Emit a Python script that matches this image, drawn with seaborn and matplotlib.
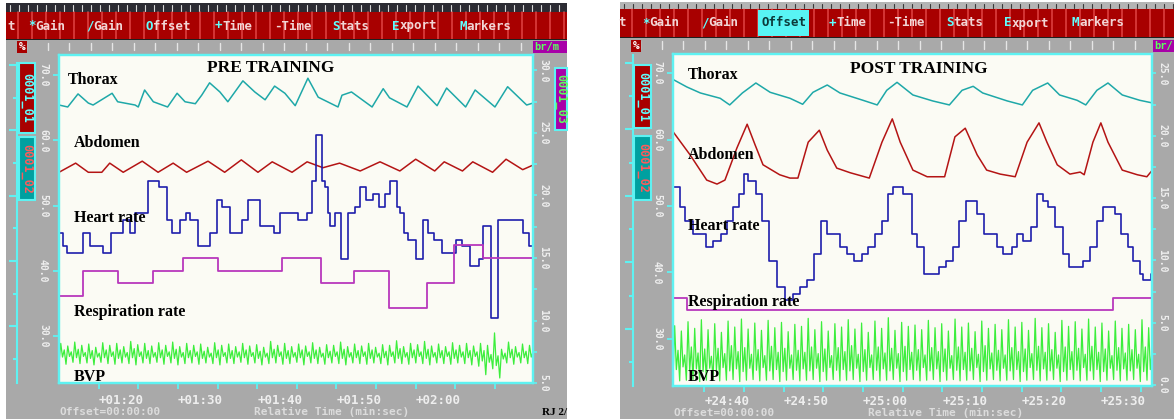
import numpy as np
import matplotlib
matplotlib.use("Agg")
import matplotlib.pyplot as plt
import matplotlib.transforms as mtransforms
from matplotlib.patches import Rectangle
import seaborn as sns

W, H = 1174, 419

# ---------------- PRE TRAINING (time in s, left scale %, resp in br/min) ----------------
pre_thorax_t = [75.0, 76.1, 77.4, 78.7, 79.3, 81.7, 82.4, 84.6, 85.0, 85.8, 86.9, 88.7, 89.9,
                90.9, 92.2, 93.0, 94.0, 95.3, 96.3, 98.2, 99.7, 101.0, 102.2, 103.5, 104.8,
                106.4, 107.7, 110.2, 110.7, 111.9, 114.5, 115.9, 116.7, 118.9, 120.3, 122.7,
                123.9, 126.3, 127.5, 130.0, 131.6, 134.0, 134.8]
pre_thorax = [65.4, 65.1, 67.1, 65.7, 65.4, 67.2, 65.9, 65.4, 65.1, 67.7, 65.9, 65.1, 67.2,
              65.9, 65.6, 66.9, 68.8, 67.4, 65.9, 69.1, 67.4, 66.2, 68.3, 67.2, 65.3,
              69.5, 66.6, 65.1, 66.9, 67.4, 65.1, 67.9, 66.5, 65.1, 68.3, 65.3,
              68.0, 65.1, 67.7, 65.1, 68.2, 65.4, 65.7]

pre_abdomen_t = [75.0, 77.1, 78.7, 80.4, 81.4, 83.1, 85.5, 87.5, 89.4, 91.1, 93.8, 95.9, 98.0,
                 100.1, 101.9, 104.4, 106.3, 108.3, 110.4, 113.0, 115.5, 118.0, 120.0, 122.4,
                 123.6, 125.9, 127.2, 129.7, 131.4, 133.5, 134.8]
pre_abdomen = [55.1, 56.5, 55.1, 55.1, 56.5, 55.1, 56.8, 55.1, 56.5, 55.1, 56.8, 55.1, 57.0,
               55.1, 56.7, 55.1, 56.7, 55.8, 56.5, 55.3, 56.7, 55.3, 57.1, 55.3,
               56.7, 55.3, 56.7, 55.1, 57.1, 55.5, 56.2]

pre_hr_t = [75.0, 75.5, 76.0, 78.0, 78.9, 80.5, 81.6, 83.1, 84.0, 84.6, 86.2, 87.6, 88.6, 89.2,
            90.3, 91.0, 91.5, 92.5, 94.0, 94.9, 95.6, 96.6, 98.1, 98.8, 100.3, 102.1, 102.9,
            105.1, 106.3, 106.9, 107.4, 108.2, 108.5, 109.0, 109.2, 109.8, 110.6, 111.4, 112.3,
            113.0, 113.7, 114.6, 115.4, 116.1, 116.7, 117.6, 118.0, 118.5, 119.0, 120.0, 120.9,
            121.5, 122.3, 123.3, 125.1, 125.8, 126.8, 128.0, 128.5, 129.5, 130.4, 133.5, 134.3,
            134.8]
pre_hr = [45.8, 43.8, 42.8, 45.8, 43.8, 42.8, 45.8, 47.8, 45.8, 48.8, 53.8, 52.8, 47.8, 45.8,
          47.8, 48.8, 47.8, 43.8, 45.8, 50.8, 49.8, 45.8, 47.8, 50.8, 46.8, 45.8, 48.8,
          47.8, 48.8, 53.8, 60.8, 53.8, 52.8, 48.8, 46.8, 48.8, 41.8, 48.8, 49.8,
          52.8, 50.8, 51.8, 49.8, 51.8, 53.8, 49.8, 48.8, 45.8, 44.8, 41.8, 47.8,
          45.8, 44.8, 42.8, 44.8, 43.8, 40.8, 41.8, 46.8, 32.8, 47.8, 45.8, 43.8,
          43.8]

pre_resp_t = [75.0, 78.0, 82.4, 86.9, 90.6, 95.1, 103.1, 108.0, 112.2, 116.6, 121.4, 124.8,
              128.5, 134.8]
pre_resp = [12, 14, 13, 14, 15, 14, 15, 13, 14, 11, 13, 16, 15, 15]

# one row per beat: trough, peak, notch, shoulder
pre_bvp = [
    (25.9, 28.9, 26.8, 27.9), (25.7, 28.5, 26.9, 27.6), (26.0, 29.1, 26.7, 28.0), (25.8, 28.6, 26.9, 27.5),
    (25.9, 28.8, 26.6, 27.8), (25.6, 28.3, 26.8, 27.4), (26.0, 29.0, 26.7, 27.9), (25.8, 28.6, 26.9, 27.6),
    (25.7, 28.9, 26.6, 27.9), (25.9, 28.4, 26.8, 27.5), (25.8, 29.2, 26.7, 28.1), (25.6, 28.7, 26.9, 27.6),
    (25.9, 28.9, 26.6, 27.8), (25.8, 28.5, 26.8, 27.5), (26.0, 29.0, 26.7, 27.9), (25.7, 28.6, 26.9, 27.6),
    (25.9, 29.1, 26.6, 28.0), (25.6, 28.4, 26.8, 27.5), (25.8, 28.9, 26.7, 27.8), (25.9, 28.6, 26.9, 27.6),
    (25.7, 28.8, 26.6, 27.7), (25.9, 28.3, 26.8, 27.4), (25.8, 29.0, 26.7, 27.9), (25.6, 28.6, 26.9, 27.5),
    (25.9, 28.8, 26.6, 27.8), (25.8, 28.4, 26.8, 27.6), (26.0, 28.9, 26.7, 27.9), (25.7, 28.5, 26.9, 27.5),
    (25.9, 28.7, 26.6, 27.7), (25.6, 28.3, 26.8, 27.4), (25.8, 29.2, 26.7, 28.0), (25.9, 28.6, 26.9, 27.6),
    (25.7, 28.9, 26.6, 27.8), (25.8, 28.4, 26.8, 27.5), (26.0, 28.8, 26.7, 27.9), (25.6, 28.5, 26.9, 27.6),
    (25.9, 29.0, 26.6, 27.9), (25.8, 28.3, 26.8, 27.4), (25.7, 28.7, 26.7, 27.7), (25.9, 28.6, 26.9, 27.6),
    (25.8, 29.1, 26.6, 28.0), (25.6, 28.4, 26.8, 27.5), (25.9, 28.8, 26.7, 27.8), (25.8, 28.5, 26.9, 27.6),
    (25.7, 28.9, 26.6, 27.9), (25.9, 28.3, 26.8, 27.4), (25.8, 28.7, 26.7, 27.7), (25.6, 28.6, 26.9, 27.6),
    (25.9, 29.3, 26.6, 28.1), (25.8, 28.4, 26.8, 27.5), (25.7, 28.9, 26.7, 27.9), (25.9, 28.7, 26.9, 27.6),
    (25.8, 29.2, 26.6, 28.0), (25.6, 28.5, 26.8, 27.5), (25.9, 28.8, 26.7, 27.8), (25.8, 28.4, 26.9, 27.6),
    (25.7, 29.0, 26.6, 27.9), (25.9, 28.6, 26.8, 27.6), (25.8, 28.9, 26.7, 27.8), (25.6, 28.5, 26.9, 27.6),
    (25.4, 28.9, 26.2, 27.8), (24.1, 28.6, 26.0, 27.2), (25.0, 30.5, 25.5, 27.0), (23.6, 28.0, 26.5, 27.4),
    (25.9, 29.1, 26.7, 28.0), (25.7, 28.4, 26.8, 27.5), (25.9, 28.8, 26.7, 27.7), (25.8, 28.6, 26.8, 27.6),
]

# ---------------- POST TRAINING ----------------
post_thorax_t = [1476.1, 1477.8, 1479.5, 1482.0, 1483.2, 1484.8, 1486.5, 1488.3, 1490.8, 1492.4,
                 1493.7, 1495.5, 1497.1, 1500.0, 1501.8, 1503.0, 1504.3, 1506.3, 1508.8, 1510.9,
                 1512.5, 1513.9, 1515.1, 1518.2, 1520.1, 1521.4, 1523.3, 1524.8, 1527.0, 1528.1,
                 1529.5, 1530.9, 1532.7, 1534.9, 1536.5]
post_thorax = [69.0, 67.9, 67.0, 66.2, 65.2, 67.0, 68.5, 67.1, 66.2, 65.3,
               67.1, 68.2, 67.0, 65.9, 65.2, 67.4, 68.6, 66.7, 65.8, 65.2,
               67.4, 68.0, 67.0, 65.8, 65.2, 67.4, 68.5, 66.7, 65.9, 65.2,
               67.4, 68.5, 66.7, 65.9, 65.5]

post_abdomen_t = [1476.1, 1478.2, 1480.3, 1481.6, 1482.6, 1484.1, 1485.4, 1486.4, 1487.4, 1489.5,
                  1490.8, 1491.8, 1493.1, 1494.5, 1495.5, 1496.7, 1498.4, 1500.8, 1502.4, 1503.7,
                  1504.7, 1506.3, 1508.1, 1510.3, 1511.6, 1512.9, 1514.4, 1515.6, 1517.3, 1519.2,
                  1520.7, 1522.2, 1523.2, 1524.5, 1526.1, 1527.4, 1527.9, 1529.0, 1530.0, 1530.9,
                  1532.7, 1534.6, 1535.8, 1536.5]
post_abdomen = [61.1, 57.7, 53.9, 53.3, 53.9, 58.7, 62.3, 59.2, 56.2, 54.7,
                54.2, 54.2, 59.6, 61.4, 58.4, 55.7, 55.0, 54.2, 59.6, 63.1,
                59.6, 55.4, 54.4, 54.4, 60.4, 61.7, 57.7, 55.4, 54.8, 54.4,
                59.6, 62.5, 59.6, 56.2, 54.8, 55.1, 54.7, 59.6, 62.5, 59.6,
                55.4, 54.7, 54.4, 55.4]

post_hr_t = [1476.1, 1476.9, 1477.6, 1478.6, 1480.2, 1481.1, 1482.1, 1482.9, 1483.6, 1484.4,
             1485.0, 1485.5, 1486.5, 1487.3, 1488.2, 1489.2, 1490.2, 1491.2, 1492.1, 1493.0,
             1493.8, 1494.7, 1495.5, 1497.1, 1498.0, 1498.9, 1499.9, 1500.6, 1501.5, 1502.4,
             1503.2, 1503.8, 1505.1, 1506.2, 1506.8, 1507.7, 1509.6, 1510.5, 1511.4, 1512.1,
             1513.0, 1514.4, 1515.3, 1516.9, 1517.7, 1518.8, 1519.4, 1520.2, 1521.2, 1522.0,
             1522.7, 1523.3, 1524.2, 1525.2, 1526.0, 1527.7, 1528.6, 1529.5, 1530.3, 1531.8,
             1532.5, 1533.4, 1534.1, 1534.9, 1535.3, 1536.3, 1536.5]
post_hr = [52.8, 49.8, 47.8, 45.8, 43.8, 44.8, 45.8, 47.8, 49.8, 51.8,
           54.8, 53.8, 51.8, 47.8, 41.8, 37.8, 35.8, 36.8, 37.8, 38.8,
           42.8, 47.8, 45.8, 43.8, 42.8, 41.8, 42.8, 43.8, 45.8, 47.8,
           51.8, 52.8, 51.8, 45.8, 43.8, 39.8, 40.8, 41.8, 43.8, 47.8,
           50.8, 48.8, 45.8, 43.8, 42.8, 43.8, 45.8, 44.8, 46.8, 51.8,
           50.8, 49.8, 46.8, 42.8, 40.8, 41.8, 43.8, 47.8, 49.8, 48.8,
           45.8, 43.8, 41.8, 39.8, 38.8, 39.8, 39.8]

post_resp_t = [1476.05, 1477.8, 1531.5, 1536.45]
post_resp = [7, 6, 7, 7]

post_bvp = [
    (23.9, 32.0, 25.4, 28.3), (23.7, 31.2, 25.8, 27.6), (23.8, 32.6, 25.2, 28.8), (23.9, 31.6, 25.5, 27.9),
    (23.6, 32.9, 25.1, 28.5), (23.8, 31.4, 25.6, 27.4), (23.9, 32.3, 25.3, 28.6), (23.7, 31.0, 25.7, 27.8),
    (23.8, 32.7, 25.2, 29.0), (23.9, 31.8, 25.5, 28.1), (23.6, 33.0, 25.1, 28.7), (23.8, 31.5, 25.6, 27.7),
    (23.9, 32.4, 25.3, 28.4), (23.7, 31.3, 25.7, 27.5), (23.8, 32.8, 25.2, 28.9), (23.9, 31.7, 25.4, 28.0),
    (23.6, 32.5, 25.1, 28.6), (23.8, 31.1, 25.6, 27.6), (23.9, 32.2, 25.3, 28.3), (23.7, 31.9, 25.5, 28.0),
    (23.8, 33.1, 25.2, 28.8), (23.9, 31.4, 25.6, 27.8), (23.6, 32.6, 25.1, 28.5), (23.8, 31.2, 25.7, 27.5),
    (23.9, 32.3, 25.3, 28.7), (23.7, 31.8, 25.4, 28.1), (23.8, 32.9, 25.2, 29.0), (23.9, 31.5, 25.6, 27.7),
    (23.6, 32.4, 25.1, 28.4), (23.8, 31.0, 25.7, 27.6), (23.9, 32.7, 25.3, 28.8), (23.7, 31.6, 25.5, 27.9),
    (23.8, 33.2, 25.2, 28.6), (23.9, 31.3, 25.6, 27.8), (23.6, 32.5, 25.1, 28.9), (23.8, 31.9, 25.4, 28.0),
    (23.9, 32.1, 25.3, 28.4), (23.7, 31.4, 25.7, 27.6), (23.8, 32.8, 25.2, 28.7), (23.9, 31.7, 25.5, 28.1),
    (23.6, 32.3, 25.1, 28.5), (23.8, 31.2, 25.6, 27.5), (23.9, 33.0, 25.3, 28.8), (23.7, 31.8, 25.4, 28.0),
    (23.8, 32.4, 25.2, 28.6), (23.9, 31.1, 25.7, 27.7), (23.6, 32.7, 25.1, 29.0), (23.8, 31.6, 25.5, 27.9),
    (23.9, 32.2, 25.3, 28.3), (23.7, 31.4, 25.6, 27.6), (23.8, 32.9, 25.2, 28.7), (23.9, 31.8, 25.4, 28.1),
    (23.6, 32.5, 25.1, 28.5), (23.8, 31.3, 25.7, 27.8), (23.9, 33.1, 25.3, 28.9), (23.7, 31.7, 25.5, 28.0),
    (23.8, 32.3, 25.2, 28.4), (23.9, 31.0, 25.6, 27.6), (23.6, 32.8, 25.1, 28.8), (23.8, 31.9, 25.4, 28.1),
    (23.9, 32.6, 25.3, 28.6), (23.7, 31.5, 25.7, 27.7), (23.8, 33.0, 25.2, 28.9), (23.9, 31.8, 25.4, 28.0),
    (23.6, 32.4, 25.1, 28.5), (23.8, 31.2, 25.6, 27.5), (23.9, 32.7, 25.3, 28.7), (23.7, 31.6, 25.5, 27.9),
    (23.8, 32.2, 25.2, 28.4), (23.9, 31.4, 25.6, 27.7), (23.6, 32.9, 25.1, 28.8), (23.8, 31.7, 25.4, 28.2),
]

trace_names = ["Thorax", "Abdomen", "Heart rate", "Respiration rate", "BVP"]
menu_items = ["t", "*Gain", "/Gain", "Offset", "+Time", "-Time", "Stats", "Export", "Markers"]

# colours of the DOS screen
GRAY = "#a9a9a9"
RED = "#a80000"
CYAN = "#5ef2f2"
PLOT_BG = "#fbfbf4"
TXT = "#eeeeee"
C_THORAX = "#1ea8a8"
C_ABD = "#b41414"
C_HR = "#1e1eac"
C_RESP = "#b838bc"
C_BVP = "#3cee3c"
MONO = "DejaVu Sans Mono"
SERIF = "Liberation Serif"

panels = [
    dict(title="PRE TRAINING", gray=(6, 3, 567, H), plot=(59, 55, 533, 383),
         xlim=(75.0, 134.8), ylim=(22.83, 73.06), ylim_r=(5.0, 31.24),
         rticks=np.arange(5, 31, 5), rminor=np.arange(7.5, 31, 5),
         xticks=np.arange(80, 131, 5), xlabels=np.arange(80, 121, 10), xlab_y=400,
         strip=(10, 63, 17, 383), strip_lim=(21.3, 70.3), top="#2c2c34", top_tick="#d8d8d8",
         red=(12, 39), menu_y=26, menu_x=[7, 28, 86, 146, 215, 274, 332, 392, 459], hot=None,
         pct=(17, 41, 27, 53), brm=(533, 41, 567, 53, "br/m"),
         box1=(19, 63, 35, 133), box2=(19, 137, 35, 200), box3=(555, 68, 567, 130),
         title_xy=(271, 68),
         label_xy=[(68, 80), (74, 143), (74, 218), (74, 312), (74, 377)],
         bottom_y=412, rel_x=254, rj=True,
         thorax=(pre_thorax_t, pre_thorax), abd=(pre_abdomen_t, pre_abdomen),
         hr=(pre_hr_t, pre_hr), resp=(pre_resp_t, pre_resp), bvp=pre_bvp),
    dict(title="POST TRAINING", gray=(620, 2, W, H), plot=(673, 54, 1152, 386),
         xlim=(1476.05, 1536.45), ylim=(22.93, 72.86), ylim_r=(-0.08, 26.56),
         rticks=np.arange(0, 26, 5), rminor=np.arange(2.5, 26, 5),
         xticks=np.arange(1480, 1536, 5), xlabels=np.arange(1480, 1531, 10), xlab_y=401,
         strip=(626, 55, 633, 386), strip_lim=(21.43, 71.2), top="#b4b4b4", top_tick="#3a3a3a",
         red=(9, 37), menu_y=23, menu_x=[618, 642, 701, 761, 829, 887, 946, 1004, 1072], hot=3,
         pct=(631, 40, 641, 52), brm=(1153, 40, W, 52, "br/"),
         box1=(634, 65, 651, 128), box2=(634, 136, 651, 200), box3=None,
         title_xy=(919, 69),
         label_xy=[(688, 75), (688, 155), (688, 226), (688, 302), (688, 377)],
         bottom_y=413, rel_x=868, rj=False,
         thorax=(post_thorax_t, post_thorax), abd=(post_abdomen_t, post_abdomen),
         hr=(post_hr_t, post_hr), resp=(post_resp_t, post_resp), bvp=post_bvp),
]

sns.set_style("white")
plt.rcParams["font.family"] = ["DejaVu Sans"]

fig = plt.figure(figsize=(W / 100, H / 100), dpi=100, facecolor="white")


def px_axes(x0, y0, x1, y1, zorder=1):
    return fig.add_axes([x0 / W, 1 - y1 / H, (x1 - x0) / W, (y1 - y0) / H], zorder=zorder)


def pixel_canvas(zorder):
    a = px_axes(0, 0, W, H, zorder=zorder)
    a.set_xlim(0, W)
    a.set_ylim(H, 0)
    a.axis("off")
    return a


bg = pixel_canvas(0)
ov = pixel_canvas(20)


def rect(x0, y0, x1, y1, fc, ec="none", lw=0.0, z=1):
    bg.add_patch(Rectangle((x0, y0), x1 - x0, y1 - y0, facecolor=fc, edgecolor=ec,
                           linewidth=lw, zorder=z))


def mono(x, y, s, color=TXT, size=9, **kw):
    ov.text(x, y, s, color=color, fontsize=size, family=MONO, fontweight="bold",
            va="center", **kw)


def fmt_time(t):
    t = int(round(t))
    return "+%02d:%02d" % (t // 60, t % 60)


for p in panels:
    gx0, gy0, gx1, gy1 = p["gray"]
    px0, py0, px1, py1 = p["plot"]
    r0, r1 = p["red"]

    # screen frame, menu bar and rulers
    rect(gx0, gy0, gx1, gy1, GRAY)
    rect(gx0, gy0, gx1, r0, p["top"])
    for xs in np.arange(gx0 + 4, gx1, 9):
        bg.plot([xs, xs], [gy0 + 2, r0 - 1], color=p["top_tick"], lw=0.8, zorder=2)
    rect(gx0, r0, gx1, r1, RED, z=2)
    for xs in np.arange(gx0 + 12, gx1, 14):
        bg.plot([xs, xs], [r0, r1], color="#ff6a6a", lw=1.3, alpha=0.55, zorder=3)
    rect(gx0, r1, gx1, r1 + 1.5, "#202020", z=3)
    for xs in np.arange(gx0 + 20, gx1 - 10, 21.5):
        bg.plot([xs, xs], [r1 + 4, py0 - 5], color="#e6e6e6", lw=1.0, zorder=2)

    # menu entries: hot key in cyan
    for i, (item, mx) in enumerate(zip(menu_items, p["menu_x"])):
        if p["hot"] == i:
            rect(mx - 3, r0 + 1, mx + 7.5 * len(item) + 3, r1 - 1, "#58f4f4", z=4)
            mono(mx, p["menu_y"], item, color="#0c3a3a")
            continue
        if item == "t" or item.startswith("-"):
            mono(mx, p["menu_y"], item, color="#f2d6d6")
        else:
            mono(mx, p["menu_y"], item[0], color="#60ffff")
            mono(mx + 7.5, p["menu_y"], item[1:], color="#f2d6d6")

    # small channel boxes
    x0, y0, x1, y1 = p["pct"]
    rect(x0, y0, x1, y1, RED, z=4)
    mono((x0 + x1) / 2, (y0 + y1) / 2, "%", color="white", size=8, ha="center")
    x0, y0, x1, y1, s = p["brm"]
    rect(x0, y0, x1, y1, "#a800a8", z=4)
    mono(x0 + 1, (y0 + y1) / 2, s, color="#5cff5c", size=7.5)
    for key, fc, tc, s in [("box1", RED, "#60ffff", "0001_01"),
                           ("box2", "#00a0a0", "#ff5a5a", "0001_02"),
                           ("box3", "#a800a8", "#5cff5c", "0001_03")]:
        if p[key] is None:
            continue
        x0, y0, x1, y1 = p[key]
        rect(x0, y0, x1, y1, fc, ec=CYAN, lw=1.5, z=4)
        ov.text((x0 + x1) / 2, (y0 + y1) / 2, s, color=tc, fontsize=8.5, family=MONO,
                fontweight="bold", rotation=270, ha="center", va="center", clip_on=True)

    # channel scale strip on the far left
    sx0, sy0, sx1, sy1 = p["strip"]
    st = px_axes(sx0, sy0, sx1, sy1, zorder=5)
    st.patch.set_alpha(0)
    st.set_ylim(*p["strip_lim"])
    st.set_xticks([])
    for side in ["left", "top", "bottom"]:
        st.spines[side].set_visible(False)
    st.spines["right"].set_color(CYAN)
    st.spines["right"].set_linewidth(1.5)
    st.yaxis.tick_right()
    st.set_yticks(np.arange(30, 71, 10))
    st.set_yticks(np.arange(25, 70, 10), minor=True)
    st.tick_params(axis="y", which="both", direction="in", right=True, color=CYAN,
                   labelright=False, width=1.5)
    st.tick_params(axis="y", which="major", length=6)
    st.tick_params(axis="y", which="minor", length=3)

    # main plot
    ax = px_axes(px0, py0, px1, py1, zorder=6)
    ax.set_facecolor(PLOT_BG)
    t, v = p["thorax"]
    sns.lineplot(x=t, y=v, ax=ax, color=C_THORAX, lw=1.1, estimator=None, sort=False)
    t, v = p["abd"]
    sns.lineplot(x=t, y=v, ax=ax, color=C_ABD, lw=1.1, estimator=None, sort=False)
    t, v = p["hr"]
    sns.lineplot(x=t, y=v, ax=ax, color=C_HR, lw=1.2, estimator=None, sort=False,
                 drawstyle="steps-post")
    bvp = np.array(p["bvp"]).ravel()
    bvp_t = np.linspace(p["xlim"][0], p["xlim"][1], len(bvp))
    sns.lineplot(x=bvp_t, y=bvp, ax=ax, color=C_BVP, lw=0.9, estimator=None, sort=False)
    ax.set_xlim(*p["xlim"])
    ax.set_ylim(*p["ylim"])
    ax.set_xlabel("")
    ax.set_ylabel("")
    for s in ax.spines.values():
        s.set_color(CYAN)
        s.set_linewidth(1.6)
    ax.set_yticks(np.arange(30, 71, 10))
    ax.set_yticklabels(["%.1f" % v for v in np.arange(30, 71, 10)], rotation=270,
                       va="center", family=MONO, fontweight="bold", fontsize=7, color=TXT)
    ax.set_xticks(p["xticks"])
    ax.set_xticklabels([])
    ax.tick_params(axis="both", direction="out", color=CYAN, width=1.3, length=4,
                   left=True, bottom=True, pad=4)

    # respiration rate on the br/min scale
    ax2 = ax.twinx()
    t, v = p["resp"]
    sns.lineplot(x=t, y=v, ax=ax2, color=C_RESP, lw=1.3, estimator=None, sort=False,
                 drawstyle="steps-post")
    ax2.set_ylim(*p["ylim_r"])
    ax2.set_xlim(*p["xlim"])
    ax2.set_ylabel("")
    for s in ax2.spines.values():
        s.set_color(CYAN)
        s.set_linewidth(1.6)
    ax2.set_yticks(p["rticks"])
    ax2.set_yticks(p["rminor"], minor=True)
    ax2.set_yticklabels(["%.1f" % v for v in p["rticks"]], rotation=270, va="center",
                        family=MONO, fontweight="bold", fontsize=7, color=TXT)
    ax2.tick_params(axis="y", which="both", direction="out", color=CYAN, width=1.2,
                    length=3, right=True, pad=1)

    # time labels (left aligned on the ten-second ticks)
    trans = mtransforms.blended_transform_factory(ax.transData, ov.transData)
    for tl in p["xlabels"]:
        ov.text(tl, p["xlab_y"], fmt_time(tl), transform=trans, color=TXT, fontsize=9,
                family=MONO, fontweight="bold", ha="left", va="center")

    # texts on the plot
    ov.text(*p["title_xy"], p["title"], ha="center", va="center", fontsize=12.5,
            family=SERIF, fontweight="bold", color="black")
    for name, (lx, ly) in zip(trace_names, p["label_xy"]):
        ov.text(lx, ly, name, ha="left", va="center", fontsize=11.5, family=SERIF,
                fontweight="bold", color="black")

    mono(px0, p["bottom_y"], "Offset=00:00:00", color="#dcdcdc", size=8)
    mono(p["rel_x"], p["bottom_y"], "Relative Time (min:sec)", color="#dcdcdc", size=8)
    if p["rj"]:
        ov.text(542, 412, "RJ 2/", fontsize=8, family=SERIF, fontweight="bold",
                color="black", va="center")

fig.savefig("out.png", dpi=100, facecolor="white")
